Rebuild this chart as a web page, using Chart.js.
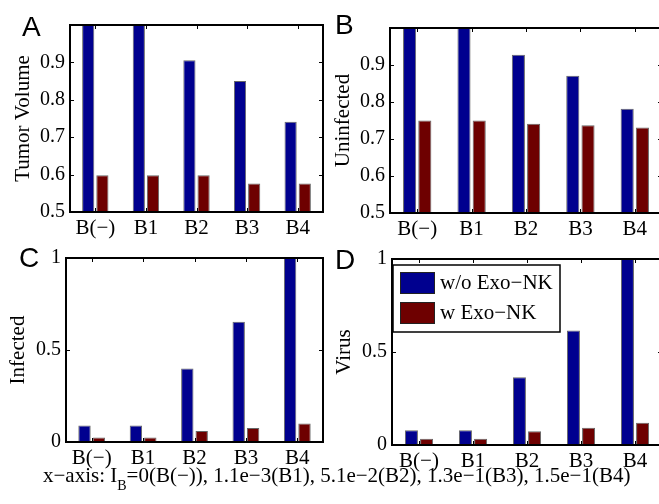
<!DOCTYPE html>
<html lang="en">
<head>
<meta charset="UTF-8">
<title>Exo-NK bars</title>
<script src="https://cdn.jsdelivr.net/npm/chart.js@4.4.1/dist/chart.umd.min.js"></script>
<style>
  html, body { margin: 0; background: #fff; overflow: hidden; }
  #fig { position: relative; width: 700px; height: 504px; }
  canvas { position: absolute; }
  .letter { position: absolute; font-family: 'Liberation Sans', Arial, sans-serif; font-size: 28px; line-height: 28px; color: #000; }
  #note { position: absolute; left: 43px; top: 465px; font-family: 'Liberation Serif', 'Times New Roman', serif; font-size: 21px; line-height: 21px; white-space: nowrap; }
  #note span { font-size: 14px; position: relative; top: 8px; }
</style>
</head>
<body>
<div id="fig">
  <canvas id="panelA" width="326" height="240" style="left:0px; top:0px"></canvas>
  <canvas id="panelB" width="335" height="241" style="left:330px; top:0px"></canvas>
  <canvas id="panelC" width="326" height="232" style="left:0px; top:240px"></canvas>
  <canvas id="panelD" width="335" height="235" style="left:330px; top:240px"></canvas>

  <div class="letter" style="left:22px; top:13px">A</div>
  <div class="letter" style="left:335px; top:11px">B</div>
  <div class="letter" style="left:19px; top:244px">C</div>
  <div class="letter" style="left:335px; top:246px">D</div>

  <div id="note">x−axis: I<span>B</span>=0(B(−)), 1.1e−3(B1), 5.1e−2(B2), 1.3e−1(B3), 1.5e−1(B4)</div>
</div>

<script>
// categories and series
const categories = ['B(−)', 'B1', 'B2', 'B3', 'B4'];
const seriesLabels = ['w/o Exo−NK', 'w Exo−NK'];

const tumorWithout = [1.0, 1.0, 0.906, 0.85, 0.741];
const tumorWith    = [0.598, 0.598, 0.598, 0.576, 0.576];

const uninfWithout = [1.0, 1.0, 0.928, 0.871, 0.782];
const uninfWith    = [0.75, 0.75, 0.741, 0.737, 0.731];

const infWithout = [0.09, 0.09, 0.40, 0.654, 1.0];
const infWith    = [0.025, 0.025, 0.06, 0.076, 0.10];

const virusWithout = [0.079, 0.079, 0.364, 0.615, 1.0];
const virusWith    = [0.034, 0.034, 0.074, 0.093, 0.12];

const blue = '#00008f';
const red = '#6e0000';
const serif = "'Liberation Serif', 'Times New Roman', serif";

// black box + inward tick marks, like matlab
const frame = {
  id: 'frame',
  afterDatasetsDraw(chart) {
    const { ctx, chartArea: a, scales: { x, y } } = chart;
    ctx.save();
    ctx.strokeStyle = '#000';
    ctx.lineWidth = 1;
    ctx.beginPath();
    y.ticks.forEach(t => {
      const py = Math.round(y.getPixelForValue(t.value)) + 0.5;
      ctx.moveTo(a.left, py); ctx.lineTo(a.left + 4, py);
      ctx.moveTo(a.right, py); ctx.lineTo(a.right - 4, py);
    });
    x.ticks.forEach((t, i) => {
      const px = Math.round(x.getPixelForTick(i)) + 0.5;
      ctx.moveTo(px, a.top); ctx.lineTo(px, a.top + 4);
      ctx.moveTo(px, a.bottom); ctx.lineTo(px, a.bottom - 4);
    });
    ctx.stroke();
    ctx.lineWidth = 2;
    ctx.strokeRect(a.left, a.top, a.right - a.left, a.bottom - a.top);
    ctx.restore();
  }
};

// legend box inside panel D
const boxLegend = {
  id: 'boxLegend',
  afterDraw(chart) {
    const { ctx, chartArea: a } = chart;
    const lx = a.left + 1, ly = a.top + 6;
    ctx.save();
    ctx.fillStyle = '#fff';
    ctx.fillRect(lx, ly, 167, 67);
    ctx.strokeStyle = '#000';
    ctx.lineWidth = 1.5;
    ctx.strokeRect(lx, ly, 167, 67);
    ctx.font = '21px ' + serif;
    ctx.textBaseline = 'middle';
    chart.data.datasets.forEach((ds, i) => {
      const sy = ly + 7 + i * 30;
      ctx.fillStyle = ds.backgroundColor;
      ctx.fillRect(lx + 7, sy, 35, 22);
      ctx.lineWidth = 1;
      ctx.strokeStyle = '#222';
      ctx.strokeRect(lx + 7.5, sy + 0.5, 34, 21);
      ctx.fillStyle = '#000';
      ctx.fillText(ds.label, lx + 47, sy + 11);
    });
    ctx.restore();
  }
};

function makePanel(id, title, without, withExo, cfg) {
  const plugins = [frame];
  if (cfg.legend) plugins.push(boxLegend);
  return new Chart(document.getElementById(id), {
    type: 'bar',
    data: {
      labels: categories,
      datasets: [
        { label: seriesLabels[0], data: without, backgroundColor: blue, borderColor: 'rgba(0,0,0,0.6)', borderWidth: 1 },
        { label: seriesLabels[1], data: withExo, backgroundColor: red, borderColor: 'rgba(0,0,0,0.6)', borderWidth: 1 }
      ]
    },
    options: {
      responsive: false,
      animation: false,
      categoryPercentage: 0.56,
      barPercentage: 0.86,
      layout: { padding: { top: cfg.top, right: cfg.right, left: 0, bottom: 0 } },
      plugins: { legend: { display: false }, tooltip: { enabled: false } },
      scales: {
        x: {
          grid: { display: false, drawTicks: false },
          border: { display: false },
          ticks: { color: '#000', font: { family: serif, size: 21 }, padding: 4, maxRotation: 0 },
          afterFit(s) { s.height = cfg.xh; }
        },
        y: {
          min: cfg.min, max: 1,
          grid: { display: false, drawTicks: false },
          border: { display: false },
          ticks: {
            stepSize: cfg.step,
            color: '#000',
            font: { family: serif, size: 20 },
            padding: 5,
            callback(v) {
              if (cfg.hideTop && Math.abs(v - 1) < 1e-6) return '';
              return String(Number(v.toFixed(1)));
            }
          },
          title: {
            display: true, text: title, color: '#000',
            font: { family: serif, size: 21, lineHeight: 1 },
            padding: { top: cfg.titlePad, bottom: 0 }
          },
          afterFit(s) { s.width = cfg.yw; }
        }
      }
    },
    plugins: plugins
  });
}

makePanel('panelA', 'Tumor Volume', tumorWithout, tumorWith,
  { top: 25, right: 3, xh: 28, yw: 70, min: 0.5, step: 0.1, hideTop: true, titlePad: 13 });
makePanel('panelB', 'Uninfected', uninfWithout, uninfWith,
  { top: 28, right: 3, xh: 28, yw: 60, min: 0.5, step: 0.1, hideTop: true, titlePad: 3 });
makePanel('panelC', 'Infected', infWithout, infWith,
  { top: 18, right: 3, xh: 30, yw: 66, min: 0, step: 0.5, hideTop: false, titlePad: 8 });
makePanel('panelD', 'Virus', virusWithout, virusWith,
  { top: 19, right: 3, xh: 30, yw: 62, min: 0, step: 0.5, hideTop: false, titlePad: 4, legend: true });
</script>
</body>
</html>
